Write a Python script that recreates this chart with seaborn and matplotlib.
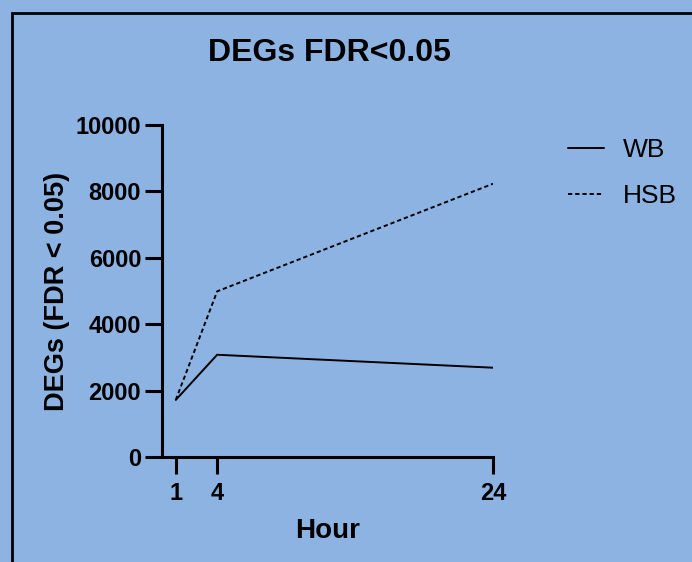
import matplotlib
matplotlib.use("Agg")
import matplotlib.pyplot as plt
import seaborn as sns
import pandas as pd
from matplotlib.patches import Rectangle

hours = [1, 4, 24]
wb = [1720, 3080, 2690]
hsb = [1720, 4990, 8230]
series = ["WB", "HSB"]
x_ticks = [1, 4, 24]
y_ticks = [0, 2000, 4000, 6000, 8000, 10000]

df = pd.DataFrame({
    "Hour": hours * 2,
    "DEGs": wb + hsb,
    "Group": ["WB"] * len(hours) + ["HSB"] * len(hours),
})

bg = "#8db3e2"
sns.set_theme(style="ticks")
plt.rcParams["font.family"] = ["Liberation Sans", "DejaVu Sans"]
plt.rcParams["text.color"] = "black"
plt.rcParams["axes.labelcolor"] = "black"
plt.rcParams["xtick.color"] = "black"
plt.rcParams["ytick.color"] = "black"

fig = plt.figure(figsize=(6.92, 5.62), dpi=100, facecolor=bg)
ax = fig.add_axes([0.2341, 0.1868, 0.7124 - 0.2341, 0.7776 - 0.1868])
ax.set_facecolor(bg)

sns.lineplot(data=df, x="Hour", y="DEGs", style="Group", style_order=series,
             dashes={"WB": "", "HSB": (2.2, 1.5)}, color="black", linewidth=1.4,
             ax=ax, legend=True)

ax.set_xlim(0, 24)
ax.set_ylim(0, 10000)
ax.set_xticks(x_ticks)
ax.set_yticks(y_ticks)
ax.set_xticklabels([str(v) for v in x_ticks], fontsize=17, fontweight="bold", color="black")
ax.set_yticklabels([str(v) for v in y_ticks], fontsize=17, fontweight="bold", color="black")
ax.tick_params(axis="x", length=12, width=2.2, color="black", pad=6)
ax.tick_params(axis="y", length=12, width=2.2, color="black", pad=3)
for s in ["left", "bottom"]:
    ax.spines[s].set_linewidth(2.2)
    ax.spines[s].set_color("black")
for s in ["top", "right"]:
    ax.spines[s].set_visible(False)

ax.set_xlabel("Hour", fontsize=20, fontweight="bold", labelpad=9, color="black")
ax.set_ylabel("DEGs (FDR < 0.05)", fontsize=19.5, fontweight="bold", labelpad=4, color="black")
fig.text(329 / 692, 1 - 53 / 562, "DEGs FDR<0.05", fontsize=23, fontweight="bold",
         ha="center", va="center", color="black")

handles, labels = ax.get_legend_handles_labels()
leg = ax.legend(handles, labels, loc="upper left", bbox_to_anchor=(568 / 692, 1 - 138 / 562),
                bbox_transform=fig.transFigure, frameon=False, fontsize=19,
                handlelength=1.36, handletextpad=0.72, labelspacing=0.85,
                borderpad=0, borderaxespad=0)
for line in leg.get_lines():
    line.set_linewidth(1.4)
for t in leg.get_texts():
    t.set_color("black")

fig.patches.append(Rectangle((12 / 692, -0.1), 1.2, 1 - 13 / 562 + 0.1,
                             transform=fig.transFigure, fill=False,
                             edgecolor="black", linewidth=2))

fig.savefig("out.png", dpi=100, facecolor=bg)
